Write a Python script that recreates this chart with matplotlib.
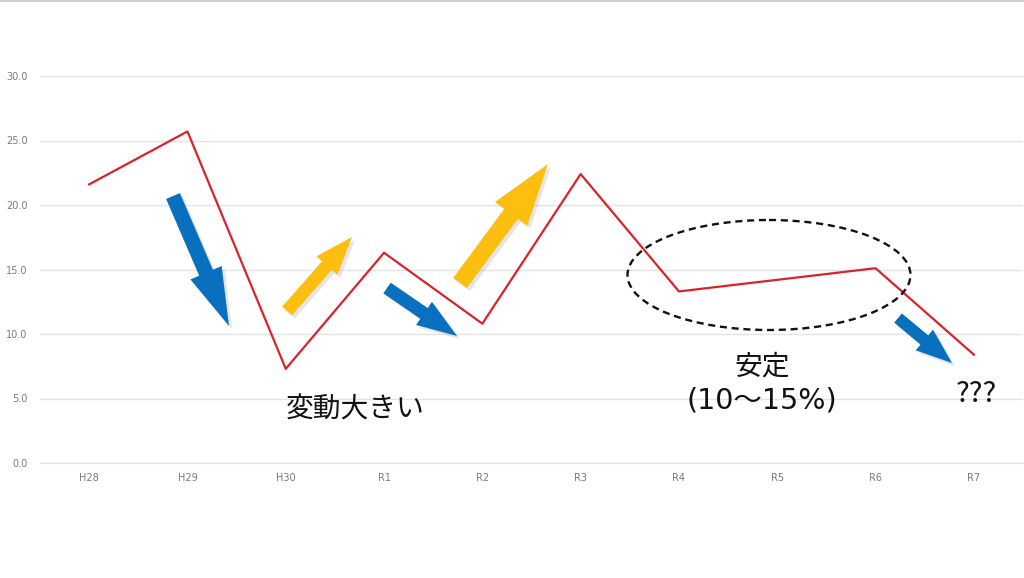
import matplotlib
matplotlib.use("Agg")
import matplotlib.pyplot as plt
from matplotlib.patches import FancyArrow, Ellipse
from matplotlib.lines import Line2D
import matplotlib.transforms as mtransforms

plt.rcParams['font.family'] = ['Noto Sans CJK JP', 'DejaVu Sans']

categories = ["H28", "H29", "H30", "R1", "R2", "R3", "R4", "R5", "R6", "R7"]
values = [21.6, 25.7, 7.3, 16.3, 10.8, 22.4, 13.3, 14.2, 15.1, 8.4]
y_ticks = [0, 5, 10, 15, 20, 25, 30]

W, H = 1024, 578
fig = plt.figure(figsize=(W / 100, H / 100), dpi=100)
ax = fig.add_axes([40 / W, 1 - 463 / H, (1023 - 40) / W, (463 - 76) / H])

x = list(range(len(categories)))
ax.plot(x, values, color="#D9232B", lw=1.6, zorder=3)
ax.set_xlim(-0.5, len(categories) - 0.5)
ax.set_ylim(0, 30)
ax.set_yticks(y_ticks)
ax.set_yticklabels([f"{v:.1f}" for v in y_ticks], family="DejaVu Sans")
ax.set_xticks(x)
ax.set_xticklabels(categories, family="DejaVu Sans")
ax.tick_params(axis="both", length=0, labelsize=7, labelcolor="#7A7A7A")
ax.tick_params(axis="y", pad=9)
ax.tick_params(axis="x", pad=7)
ax.grid(axis="y", color="#E3E3E3", lw=1)
ax.set_axisbelow(True)
for s in ["top", "right", "left"]:
    ax.spines[s].set_visible(False)
ax.spines["bottom"].set_color("#E3E3E3")

# pixel transform (origin top-left)
pix = mtransforms.Affine2D().scale(1 / W, -1 / H).translate(0, 1) + fig.transFigure

fig.add_artist(Line2D([0, 1], [1 - 1 / H, 1 - 1 / H], transform=fig.transFigure,
                      color="#CFCFCF", lw=1.5))

def arrow(x0, y0, x1, y1, width, head_w, head_l, color):
    dx, dy = x1 - x0, y1 - y0
    sh = FancyArrow(x0 + 3, y0 + 3, dx, dy, width=width, head_width=head_w,
                    head_length=head_l, length_includes_head=True,
                    transform=pix, color="#999999", alpha=0.25, lw=0, zorder=4)
    fig.add_artist(sh)
    a = FancyArrow(x0, y0, dx, dy, width=width, head_width=head_w,
                   head_length=head_l, length_includes_head=True,
                   transform=pix, color=color, lw=0, zorder=5)
    fig.add_artist(a)

BLUE = "#0870BF"
YELLOW = "#FCBF0F"
arrow(173, 196, 229, 326, 15, 34, 58, BLUE)
arrow(287, 311, 352, 237, 13, 28, 38, YELLOW)
arrow(387, 288, 457, 336, 13, 28, 40, BLUE)
arrow(460, 283, 548, 164, 17, 40, 62, YELLOW)
arrow(898, 318, 952, 363, 12, 27, 36, BLUE)

ell = Ellipse((769, 275), 283, 110, transform=pix, fill=False, ls=(0, (3, 2)),
              lw=1.7, edgecolor="#111111", zorder=6)
fig.add_artist(ell)

fig.text(355 / W, 1 - 410 / H, "変動大きい", ha="center", va="center",
         fontsize=20, color="#111111")
fig.text(762 / W, 1 - 366 / H, "安定", ha="center", va="center",
         fontsize=20, color="#111111")
fig.text(762 / W, 1 - 401 / H, "(10～15%)", ha="center", va="center",
         fontsize=20.5, color="#111111", family=["DejaVu Sans", "Noto Sans CJK JP"])
fig.text(976 / W, 1 - 394 / H, "???", ha="center", va="center",
         fontsize=21, color="#111111")

fig.savefig("out.png", dpi=100)
